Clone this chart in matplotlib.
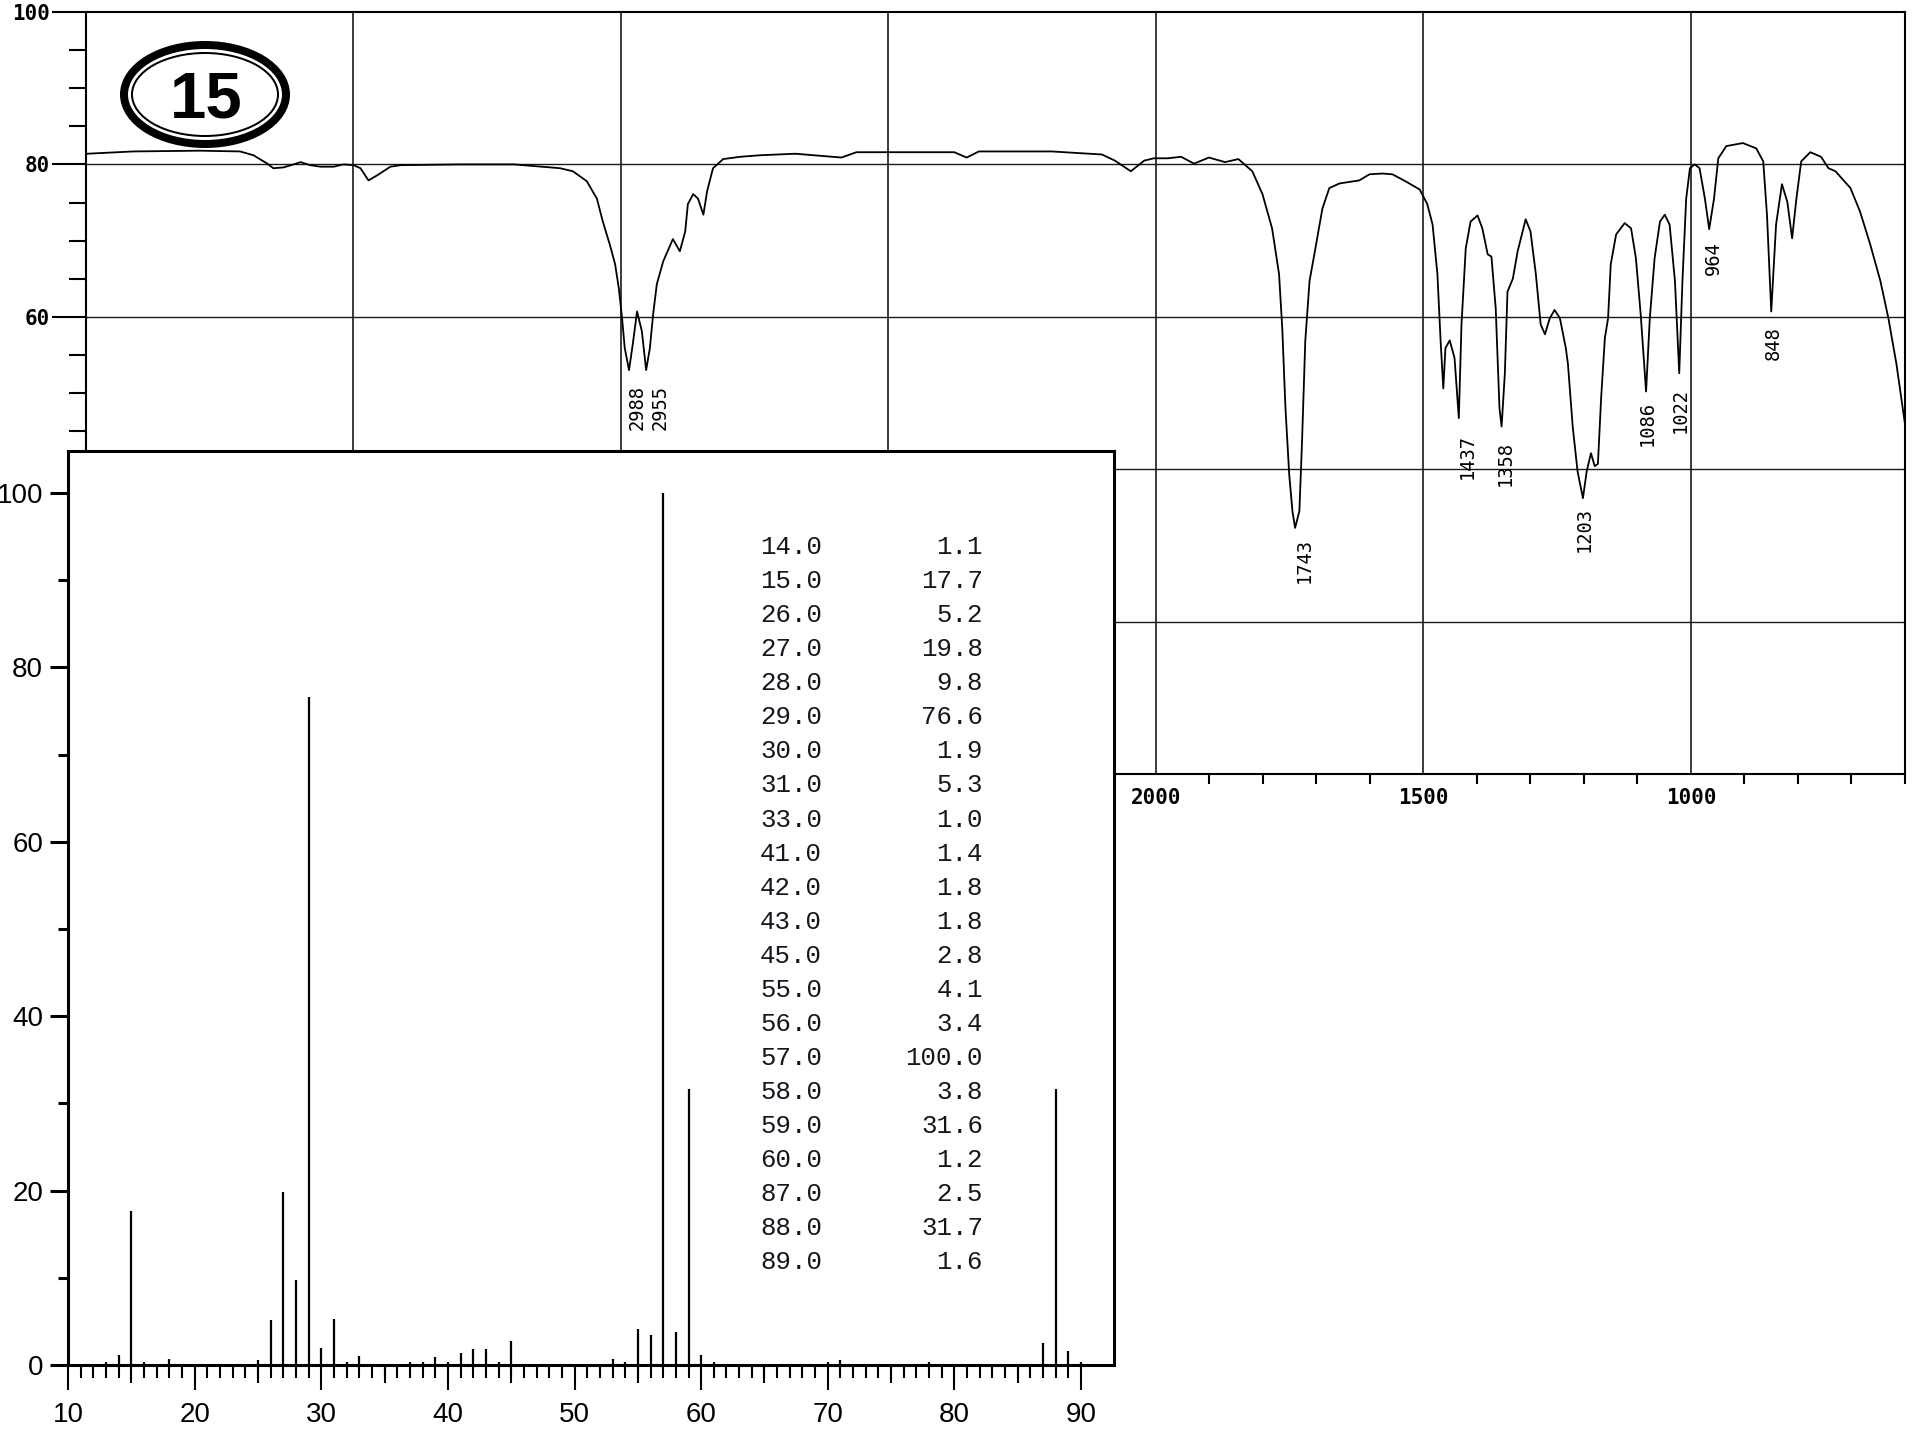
import matplotlib.pyplot as plt
from matplotlib.patches import Ellipse

# IR spectrum: wavenumber (cm-1) and transmittance (%)
ir_wn = [3998, 3912, 3787, 3712, 3687, 3661, 3650, 3631, 3612, 3599, 3581, 3562,
         3537, 3519, 3500, 3487, 3472, 3455, 3431, 3412, 3300, 3200, 3114, 3090,
         3064, 3045, 3034, 3021, 3011, 3004, 2998, 2993, 2985, 2978, 2970, 2961,
         2953, 2946, 2940, 2933, 2921, 2903, 2890, 2880, 2875, 2865, 2856, 2846,
         2839, 2828, 2809, 2777, 2740, 2674, 2588, 2560, 2468, 2377, 2354, 2331,
         2195, 2101, 2077, 2047, 2022, 2004, 1978, 1953, 1929, 1901, 1871, 1846,
         1820, 1801, 1783, 1770, 1764, 1758, 1751, 1745, 1740, 1732, 1727, 1721,
         1713, 1702, 1689, 1676, 1657, 1620, 1601, 1577, 1558, 1534, 1507, 1493,
         1483, 1474, 1468, 1463, 1459, 1451, 1442, 1434, 1429, 1421, 1412, 1399,
         1390, 1380, 1373, 1365, 1358, 1354, 1348, 1343, 1333, 1324, 1309, 1300,
         1290, 1281, 1273, 1264, 1255, 1245, 1234, 1230, 1221, 1212, 1202, 1195,
         1187, 1180, 1174, 1168, 1161, 1155, 1150, 1140, 1124, 1112, 1103, 1094,
         1084, 1077, 1068, 1058, 1049, 1040, 1030, 1022, 1016, 1009, 1002, 993,
         984, 974, 966, 957, 949, 934, 903, 878, 865, 858, 850, 841, 830, 820,
         811, 803, 794, 777, 757, 743, 730, 702, 684, 665, 646, 631, 616, 600]
ir_t = [81.4, 81.7, 81.8, 81.7, 81.2, 80.1, 79.5, 79.6, 80.0, 80.3, 79.9, 79.7,
        79.7, 80.0, 79.9, 79.5, 77.9, 78.6, 79.7, 79.9, 80.0, 80.0, 79.5, 79.1,
        77.8, 75.5, 72.5, 69.5, 66.9, 63.7, 59.8, 55.9, 53.0, 56.4, 60.7, 58.1,
        53.0, 55.9, 60.3, 64.3, 67.3, 70.2, 68.6, 71.2, 74.8, 76.1, 75.5, 73.4,
        76.5, 79.5, 80.7, 81.0, 81.2, 81.4, 80.9, 81.6, 81.6, 81.6, 80.9, 81.7,
        81.7, 81.3, 80.5, 79.1, 80.5, 80.8, 80.8, 81.0, 80.1, 80.9, 80.3, 80.7,
        79.1, 76.1, 71.6, 65.6, 58.5, 48.0, 39.3, 34.5, 32.3, 34.5, 43.7, 56.8,
        64.7, 69.0, 74.2, 76.9, 77.5, 77.9, 78.7, 78.8, 78.7, 77.8, 76.7, 74.8,
        72.1, 65.6, 56.8, 50.6, 55.9, 56.9, 54.6, 46.7, 59.0, 69.0, 72.5, 73.3,
        71.6, 68.2, 67.9, 61.1, 48.0, 45.6, 52.5, 63.3, 65.0, 68.6, 72.8, 71.2,
        65.6, 59.0, 57.7, 59.8, 60.9, 59.8, 55.9, 53.8, 45.5, 39.7, 36.2, 39.7,
        42.1, 40.4, 40.7, 49.3, 57.2, 59.8, 66.9, 70.8, 72.3, 71.6, 67.7, 60.3,
        50.2, 59.8, 67.7, 72.5, 73.4, 72.1, 64.7, 52.6, 64.7, 75.5, 79.5, 80.0,
        79.5, 75.5, 71.5, 75.5, 80.8, 82.4, 82.8, 82.1, 80.4, 73.4, 60.7, 72.1,
        77.4, 75.1, 70.3, 75.5, 80.4, 81.6, 81.0, 79.5, 79.1, 76.9, 73.8, 69.5,
        64.7, 59.8, 53.8, 45.9]

ir_peaks = ["2988", "2955", "1743", "1437", "1358", "1203", "1086", "1022", "964", "848"]
ir_peak_x = [2970, 2927, 1723, 1419, 1348, 1199, 1082, 1021, 959, 846]
ir_peak_top = [51.1, 51.1, 31.0, 44.6, 43.7, 35.0, 48.9, 50.6, 69.9, 58.8]

# mass spectrum: m/z and relative intensity
ms_mz = [13, 14, 15, 16, 18, 25, 26, 27, 28, 29, 30, 31, 32, 33, 37, 38, 39, 40,
         41, 42, 43, 44, 45, 53, 54, 55, 56, 57, 58, 59, 60, 61, 70, 71, 78, 87,
         88, 89, 90]
ms_int = [0.4, 1.1, 17.7, 0.4, 0.7, 0.6, 5.2, 19.8, 9.8, 76.6, 1.9, 5.3, 0.4, 1.0,
          0.4, 0.4, 0.9, 0.4, 1.4, 1.8, 1.8, 0.4, 2.8, 0.7, 0.4, 4.1, 3.4, 100.0,
          3.8, 31.6, 1.2, 0.3, 0.3, 0.6, 0.4, 2.5, 31.7, 1.6, 0.4]

table_mz = [14, 15, 26, 27, 28, 29, 30, 31, 33, 41, 42, 43, 45, 55, 56, 57, 58,
            59, 60, 87, 88, 89]
table_int = [1.1, 17.7, 5.2, 19.8, 9.8, 76.6, 1.9, 5.3, 1.0, 1.4, 1.8, 1.8, 2.8,
             4.1, 3.4, 100.0, 3.8, 31.6, 1.2, 2.5, 31.7, 1.6]

W, H = 1915, 1438
PX = 0.72  # points per pixel at dpi 100

fig = plt.figure(figsize=(W / 100, H / 100), dpi=100)


def box(x0, y0, x1, y1):
    # pixel box with top-left origin -> figure fraction rect
    return [x0 / W, 1 - y1 / H, (x1 - x0) / W, (y1 - y0) / H]


# ---- IR spectrum (background) ----
ir = fig.add_axes(box(86, 12, 1905, 774), zorder=1)
ir.plot(ir_wn, ir_t, color="black", lw=1.3, zorder=3)
ir.set_xlim(4000, 600)
ir.set_ylim(0, 100)
for v in [20, 40, 60, 80]:
    ir.axhline(v, color="#1a1a1a", lw=1.0, zorder=2)
for v in [3500, 3000, 2500, 2000, 1500, 1000]:
    ir.axvline(v, color="#1a1a1a", lw=1.2, zorder=2)
for s in ir.spines.values():
    s.set_linewidth(1.5)

mono_bold = dict(family="DejaVu Sans Mono", weight="bold", size=15)
ir.set_yticks([60, 80, 100])
ir.set_yticklabels(["60", "80", "100"], **mono_bold)
ir.set_yticks([45, 50, 55, 65, 70, 75, 85, 90, 95], minor=True)
ir.tick_params(axis="y", which="major", length=34 * PX, width=1.5, pad=1.5)
ir.tick_params(axis="y", which="minor", length=17 * PX, width=1.5)
ir.set_xticks([2000, 1500, 1000])
ir.set_xticklabels(["2000", "1500", "1000"], **mono_bold)
ir.set_xticks([1900, 1800, 1700, 1600, 1400, 1300, 1200, 1100,
               900, 800, 700, 600], minor=True)
ir.tick_params(axis="x", which="major", length=0, pad=14 * PX)
ir.tick_params(axis="x", which="minor", length=10 * PX, width=1.5)

for lab, x, t in zip(ir_peaks, ir_peak_x, ir_peak_top):
    ir.text(x, t, lab, rotation=90, ha="center", va="top",
            family="DejaVu Sans Mono", size=13.5, zorder=4)

# ---- mass spectrum (inset) ----
ms = fig.add_axes(box(68, 451, 1114, 1365), zorder=3)
ms.set_facecolor("white")
ms.vlines(ms_mz, 0, ms_int, color="black", lw=1.6)
ms.set_xlim(10, 92.6)
ms.set_ylim(0, 104.8)
for s in ms.spines.values():
    s.set_linewidth(2.2)

ms.set_xticks(range(10, 91, 10))
ms.set_xticks(range(11, 90), minor=True)
ms.tick_params(axis="x", which="major", length=25 * PX, width=1.5, pad=12 * PX,
               labelsize=20)
ms.tick_params(axis="x", which="minor", length=13 * PX, width=1.5)
sec = ms.secondary_xaxis("bottom")
sec.set_xticks(range(15, 90, 10))
sec.tick_params(length=18 * PX, width=1.5, labelbottom=False)
sec.spines["bottom"].set_visible(False)

ms.set_yticks(range(0, 101, 20))
ms.set_yticks(range(10, 100, 20), minor=True)
ms.tick_params(axis="y", which="major", length=18 * PX, width=2.2, pad=7 * PX,
               labelsize=20)
ms.tick_params(axis="y", which="minor", length=10 * PX, width=2.2)
for lab in ms.get_xticklabels() + ms.get_yticklabels():
    lab.set_family("Liberation Sans")

# ---- overlay in pixel coordinates: table and badge ----
ov = fig.add_axes([0, 0, 1, 1], zorder=6)
ov.set_xlim(0, W)
ov.set_ylim(H, 0)
ov.axis("off")
ov.patch.set_alpha(0)

for i, (mz, inten) in enumerate(zip(table_mz, table_int)):
    y = 554 + 34.07 * i
    ov.text(822, y, f"{mz:.1f}", ha="right", va="baseline",
            family="Liberation Mono", size=18.5, color="#15151f")
    ov.text(983, y, f"{inten:.1f}", ha="right", va="baseline",
            family="Liberation Mono", size=18.5, color="#15151f")

ov.add_patch(Ellipse((205, 94.5), 162, 99, fill=False, ec="black", lw=8 * PX))
ov.add_patch(Ellipse((205, 94.5), 146, 83, fill=False, ec="black", lw=2 * PX))
ov.text(206, 118, "15", ha="center", va="baseline", family="Liberation Sans",
        weight="bold", size=47)

fig.savefig("out.png", dpi=100)
